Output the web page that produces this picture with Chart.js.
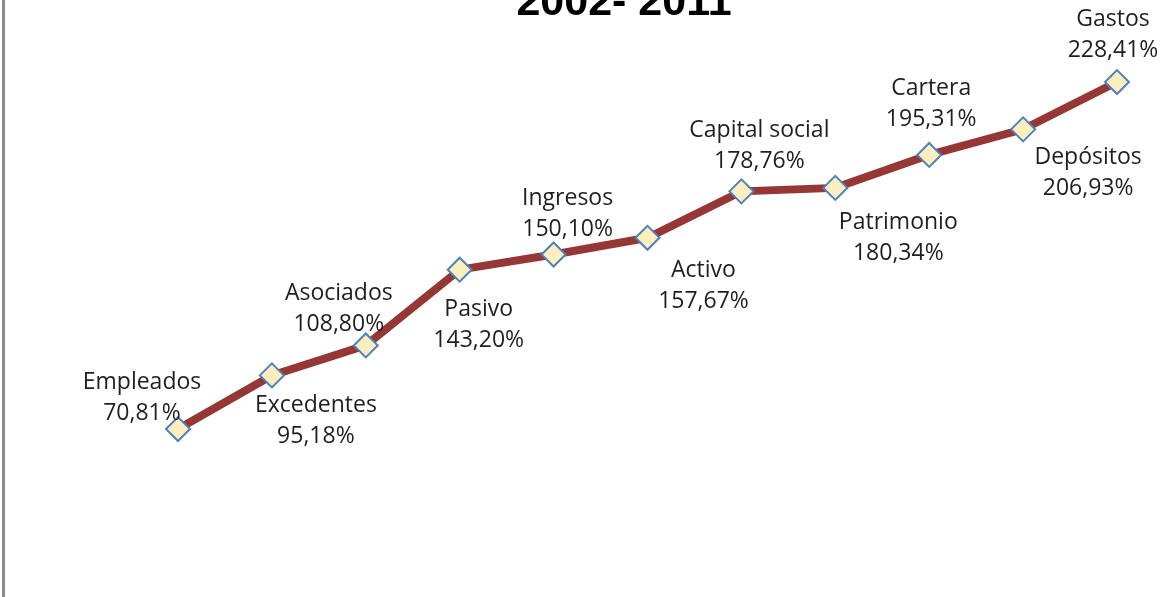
<!DOCTYPE html>
<html>
<head>
<meta charset="utf-8">
<title>2002- 2011</title>
<script src="https://cdn.jsdelivr.net/npm/chart.js@4/dist/chart.umd.min.js"></script>
<style>
    html, body {
        margin: 0;
        padding: 0;
        background: #fff;
        overflow: hidden;
    }
    .frame {
        position: relative;
        width: 1169px;
        height: 597px;
    }
    .frame .edge {
        position: absolute;
        left: 2px;
        top: 0;
        width: 3px;
        height: 597px;
        background: #8c8c8c;
    }
</style>
</head>
<body>
<div class="frame">
    <canvas id="chart" width="1169" height="597"></canvas>
    <div class="edge"></div>
</div>
<script>
var title = "2002- 2011";
var categories = ["Empleados", "Excedentes", "Asociados", "Pasivo", "Ingresos", "Activo",
    "Capital social", "Patrimonio", "Cartera", "Depósitos", "Gastos"];
var growth = [70.81, 95.18, 108.80, 143.20, 150.10, 157.67, 178.76, 180.34, 195.31, 206.93, 228.41];

// where each label block sits relative to its marker (px)
var labelOffsets = [[-36, -31], [44, 46], [-27, -36], [19, 55], [14, -41], [56, 48],
    [18, -45], [63, 50], [2, -51], [65, 44], [-4, -47]];

function formatPercent(value) {
    return value.toFixed(2).replace(".", ",") + "%";
}

var pointLabels = {
    id: "pointLabels",
    afterDatasetsDraw: function (chart) {
        var ctx = chart.ctx;
        var meta = chart.getDatasetMeta(0);
        ctx.save();
        ctx.font = "23px 'Open Sans'";
        ctx.fillStyle = "#1f1f1f";
        ctx.textAlign = "center";
        ctx.textBaseline = "middle";
        meta.data.forEach(function (point, i) {
            var x = point.x + labelOffsets[i][0];
            var y = point.y + labelOffsets[i][1];
            ctx.fillText(categories[i], x, y - 15.5);
            ctx.fillText(formatPercent(growth[i]), x, y + 15.5);
        });
        ctx.restore();
    }
};

var topTitle = {
    id: "topTitle",
    afterDraw: function (chart) {
        var ctx = chart.ctx;
        ctx.save();
        ctx.font = "bold 43px 'Liberation Sans'";
        ctx.fillStyle = "#000";
        ctx.textAlign = "center";
        ctx.textBaseline = "alphabetic";
        ctx.fillText(title, 624, 15);
        ctx.restore();
    }
};

var config = {
    type: "line",
    data: {
        labels: categories,
        datasets: [{
            data: growth,
            borderColor: "#953735",
            borderWidth: 8,
            pointStyle: "rectRot",
            pointRadius: 12,
            pointHoverRadius: 12,
            pointBorderWidth: 2,
            pointBorderColor: "#4f81bd",
            pointBackgroundColor: "#fdeec0",
            tension: 0,
            clip: false
        }]
    },
    options: {
        responsive: false,
        animation: false,
        events: [],
        layout: {
            autoPadding: false,
            padding: { left: 178, right: 52, top: 34.5, bottom: 12 }
        },
        scales: {
            x: { display: false, offset: false },
            y: { display: false, min: 0, max: 250 }
        },
        plugins: {
            legend: { display: false },
            title: { display: false },
            tooltip: { enabled: false }
        }
    },
    plugins: [pointLabels, topTitle]
};

var chart = new Chart(document.getElementById("chart"), config);
</script>
</body>
</html>
